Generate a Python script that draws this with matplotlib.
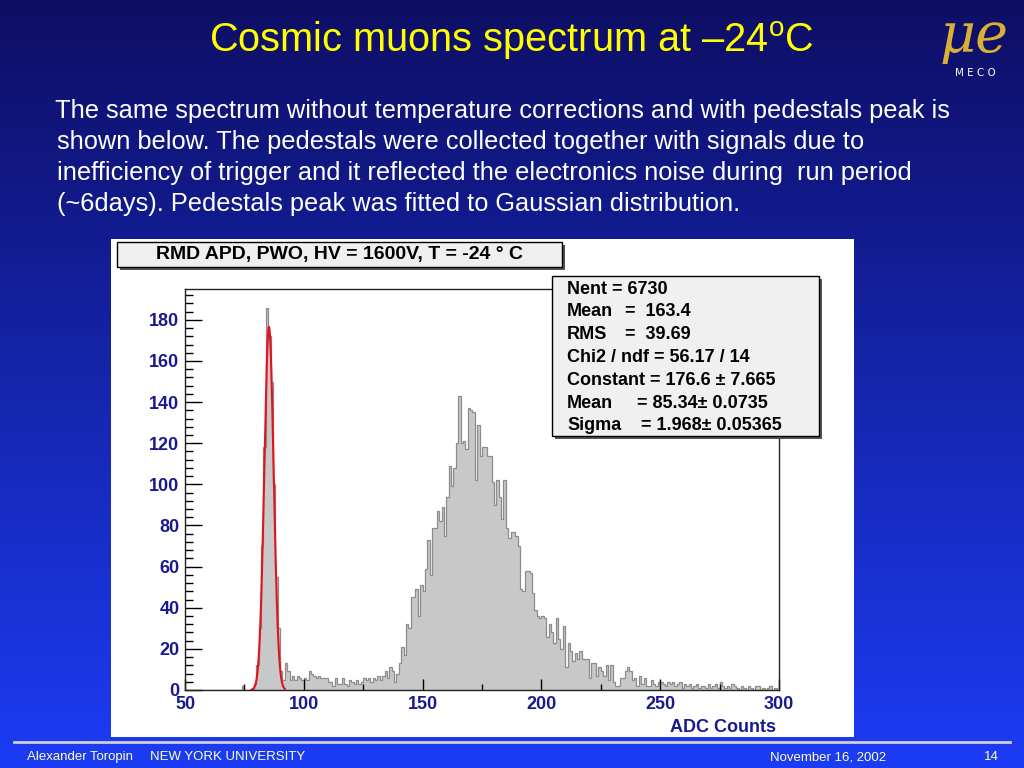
import numpy as np
import matplotlib.pyplot as plt
from matplotlib.patches import Rectangle

plt.rcParams['font.family'] = ['Liberation Sans', 'DejaVu Sans']
plt.rcParams['mathtext.fontset'] = 'custom'
plt.rcParams['mathtext.rm'] = 'Liberation Sans'

# histogram: ADC counts, 1 count per bin, from 50 to 300
bin_lo = 50
bin_hi = 300
counts = [
    0, 0, 0, 0, 0, 0, 0, 0, 0, 0,            # 50
    0, 0, 0, 0, 0, 0, 0, 0, 0, 0,            # 60
    0, 0, 0, 0, 2, 0, 0, 0, 0, 3,            # 70
    12, 30, 70, 118, 186, 172, 150, 100, 55, 30,   # 80
    9, 5, 13, 9, 5, 7, 5, 7, 6, 5,           # 90
    6, 5, 9, 8, 7, 6, 7, 6, 6, 6,            # 100
    4, 4, 2, 6, 3, 3, 6, 3, 2, 5,            # 110
    4, 3, 5, 3, 4, 6, 5, 6, 4, 6,            # 120
    5, 7, 5, 7, 9, 6, 11, 9, 4, 8,           # 130
    13, 21, 17, 32, 30, 45, 45, 49, 36, 51,  # 140
    48, 59, 73, 56, 79, 79, 87, 82, 89, 75,  # 150
    94, 109, 99, 108, 120, 143, 120, 121, 117, 137,  # 160
    136, 135, 102, 129, 114, 118, 118, 114, 114, 101,  # 170
    90, 102, 94, 83, 102, 79, 74, 77, 77, 75,  # 180
    70, 49, 48, 58, 58, 57, 47, 39, 36, 35,  # 190
    36, 35, 26, 32, 28, 23, 35, 25, 20, 31,  # 200
    11, 23, 19, 14, 18, 15, 19, 15, 15, 15,  # 210
    6, 13, 13, 7, 11, 9, 7, 12, 5, 12,      # 220
    4, 2, 2, 6, 6, 9, 11, 9, 5, 6,          # 230
    2, 7, 3, 6, 2, 2, 5, 3, 2, 4,           # 240
    4, 3, 2, 4, 3, 4, 2, 3, 4, 1,           # 250
    3, 2, 3, 1, 2, 3, 1, 2, 2, 1,           # 260
    3, 1, 2, 3, 1, 4, 2, 1, 2, 1,           # 270
    3, 2, 1, 0, 2, 1, 0, 2, 1, 0,           # 280
    2, 2, 0, 1, 0, 1, 2, 0, 1, 0,           # 290
]
edges = np.arange(bin_lo, bin_hi + 1)

# gaussian fit of the pedestal peak
fit_const = 176.6
fit_mean = 85.34
fit_sigma = 1.968
fit_range = (78, 92)

title_box = "RMD APD, PWO, HV = 1600V, T = -24 \u00b0 C"
stats_lines = [
    ("Nent = 6730", None),
    ("Mean", "=  163.4"),
    ("RMS", "=  39.69"),
    ("Chi2 / ndf = 56.17 / 14", None),
    ("Constant = 176.6 \u00b1 7.665", None),
    ("Mean", "= 85.34\u00b1 0.0735"),
    ("Sigma", "= 1.968\u00b1 0.05365"),
]
body = [
    "The same spectrum without temperature corrections and with pedestals peak is",
    "shown below. The pedestals were collected together with signals due to",
    "inefficiency of trigger and it reflected the electronics noise during  run period",
    "(~6days). Pedestals peak was fitted to Gaussian distribution.",
]

W, H = 1024, 768
fig = plt.figure(figsize=(10.24, 7.68), dpi=100)

# slide background (pixel coords, y down)
bg = fig.add_axes([0, 0, 1, 1])
g = np.linspace(0, 1, 256)[:, None, None]
top = np.array([14, 14, 100]) / 255
bot = np.array([28, 60, 245]) / 255
bg.imshow(top + (bot - top) * g, aspect='auto', extent=[0, W, H, 0])
bg.set_xlim(0, W)
bg.set_ylim(H, 0)
bg.axis('off')

bg.add_patch(Rectangle((111, 239), 743, 498, facecolor='white', edgecolor='none'))

bg.text(512, 52, 'Cosmic muons spectrum at \u201324$^\\mathrm{o}$C', color='#ffff00',
        fontsize=28.6, ha='center', va='baseline')
for i, line in enumerate(body):
    bg.text(55 if i == 0 else 57, 118 + 31 * i, line, color='white', fontsize=18.3,
            va='baseline')

# MECO logo
bg.text(974, 52, '\u03bce', color='#d8b035', fontsize=40, family='DejaVu Serif',
        style='italic', ha='center', va='baseline')
bg.text(975, 73, 'M E C O', color='white', fontsize=7.5, ha='center', va='center',
        family='DejaVu Sans')

# footer
bg.plot([14, 1010], [742, 742], color='#d0d0d0', lw=2)
foot = '#ffffd0'
bg.text(27, 760, 'Alexander Toropin', color=foot, fontsize=9.5, va='baseline')
bg.text(150, 760, 'NEW YORK UNIVERSITY', color=foot, fontsize=9.5, va='baseline')
bg.text(770, 760, 'November 16, 2002', color=foot, fontsize=9.5, va='baseline')
bg.text(991, 760, '14', color=foot, fontsize=9.5, va='baseline', ha='center')

# histogram
ax = fig.add_axes([185 / W, 1 - 690 / H, 594 / W, 401 / H])
ax.stairs(counts, edges, fill=True, color='#c8c8c8')
ax.stairs(counts, edges, color='#8c8c8c', lw=0.9)
xf = np.linspace(fit_range[0], fit_range[1], 300)
ax.plot(xf, fit_const * np.exp(-0.5 * ((xf - fit_mean) / fit_sigma) ** 2),
        color='#e3121b', lw=1.5)
ax.set_xlim(bin_lo, bin_hi)
ax.set_ylim(0, 195)
ax.set_xticks(range(50, 301, 50))
ax.set_xticks(range(75, 300, 50), minor=True)
ax.set_yticks(range(0, 181, 20))
ax.set_yticks(range(0, 195, 4), minor=True)
navy = '#1a1a8e'
ax.tick_params(axis='y', which='major', direction='in', length=12, width=1,
               labelcolor=navy, labelsize=13, pad=4)
ax.tick_params(axis='y', which='minor', direction='in', length=6, width=1)
ax.tick_params(axis='x', which='major', direction='in', length=8, width=1,
               labelcolor=navy, labelsize=13, pad=4)
ax.tick_params(axis='x', which='minor', direction='in', length=4, width=1)
plt.setp(ax.get_xticklabels() + ax.get_yticklabels(), fontweight='bold')
for s in ax.spines.values():
    s.set_color('#222222')
    s.set_linewidth(1)

# overlay: boxes and axis title
ov = fig.add_axes([0, 0, 1, 1])
ov.patch.set_alpha(0)
ov.set_xlim(0, W)
ov.set_ylim(H, 0)
ov.axis('off')
ov.text(776, 727, 'ADC Counts', color=navy, fontsize=13, fontweight='bold',
        ha='right', va='center')

ov.add_patch(Rectangle((120, 245), 445, 25, facecolor='#555555', edgecolor='none'))
ov.add_patch(Rectangle((117, 242), 445, 25, facecolor='#efefef', edgecolor='black', lw=1))
ov.text(339, 255, title_box, fontsize=14, fontweight='bold', ha='center', va='center')

ov.add_patch(Rectangle((555, 279), 267, 160, facecolor='#555555', edgecolor='none'))
ov.add_patch(Rectangle((552, 276), 267, 160, facecolor='#f0f0f0', edgecolor='black', lw=1))
val_x = {1: 625, 2: 625, 5: 637, 6: 641}
for i, (a, b) in enumerate(stats_lines):
    y = 289 + 22.8 * i
    ov.text(567, y, a, fontsize=13, fontweight='bold', va='center')
    if b:
        ov.text(val_x[i], y, b, fontsize=13, fontweight='bold', va='center')

fig.savefig('out.png', dpi=100)
